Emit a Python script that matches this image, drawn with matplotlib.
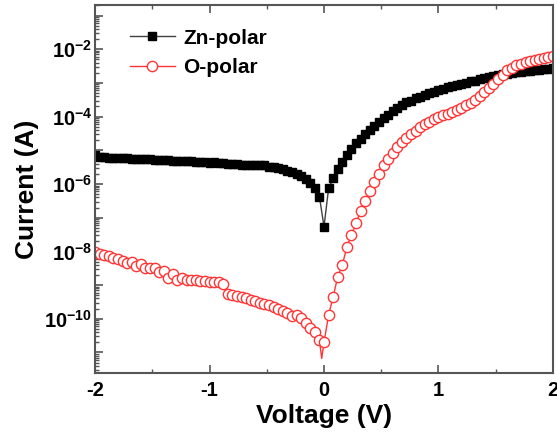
import numpy as np
import matplotlib
matplotlib.use('Agg')
import matplotlib.pyplot as plt
from matplotlib.ticker import LogLocator, FuncFormatter, MultipleLocator, NullFormatter

plt.rcParams['font.family'] = ['Liberation Sans', 'DejaVu Sans']
plt.rcParams['font.weight'] = 'bold'
plt.rcParams['mathtext.fontset'] = 'custom'
plt.rcParams['mathtext.rm'] = 'Liberation Sans:bold'
plt.rcParams['mathtext.bf'] = 'Liberation Sans:bold'

# ── Data (sweep -2 V .. 2 V, 0.04 V step) ───────────────────────────────────
voltage = np.linspace(-2.0, 2.0, 101)

zn_current = [
    7.1e-6, 6.3e-6, 6.2e-6, 6.0e-6, 6.0e-6, 5.9e-6, 5.8e-6, 5.8e-6, 5.6e-6, 5.5e-6,
    5.5e-6, 5.4e-6, 5.4e-6, 5.2e-6, 5.1e-6, 5.1e-6, 5.0e-6, 4.9e-6, 4.9e-6, 4.8e-6,
    4.7e-6, 4.7e-6, 4.6e-6, 4.5e-6, 4.4e-6, 4.3e-6, 4.4e-6, 4.2e-6, 4.1e-6, 4.0e-6,
    3.9e-6, 3.8e-6, 3.7e-6, 3.6e-6, 3.55e-6, 3.55e-6, 3.6e-6, 3.55e-6, 3.3e-6, 3.2e-6,
    2.95e-6, 2.75e-6, 2.5e-6, 2.3e-6, 2.0e-6, 1.7e-6, 1.4e-6, 1.07e-6, 7.6e-7, 4.2e-7,
    5.4e-8,
    7.4e-7, 1.48e-6, 2.75e-6, 4.5e-6, 7.2e-6, 1.12e-5, 1.62e-5, 2.2e-5, 2.95e-5, 4.0e-5,
    5.4e-5, 7.1e-5, 8.9e-5, 1.12e-4, 1.48e-4, 1.82e-4, 2.2e-4, 2.7e-4, 3.0e-4, 3.5e-4,
    3.9e-4, 4.4e-4, 4.9e-4, 5.5e-4, 6.0e-4, 6.6e-4, 7.4e-4, 8.1e-4, 8.7e-4, 9.5e-4,
    1.02e-3, 1.10e-3, 1.17e-3, 1.29e-3, 1.38e-3, 1.48e-3, 1.58e-3, 1.66e-3, 1.78e-3, 1.86e-3,
    1.95e-3, 2.04e-3, 2.1e-3, 2.2e-3, 2.24e-3, 2.34e-3, 2.45e-3, 2.5e-3, 2.6e-3, 2.75e-3,
]

o_current = [
    9.3e-9, 8.5e-9, 7.9e-9, 7.4e-9, 6.5e-9, 5.9e-9, 5.2e-9, 4.4e-9, 4.9e-9, 3.7e-9,
    4.1e-9, 3.3e-9, 3.1e-9, 3.3e-9, 2.4e-9, 2.7e-9, 1.62e-9, 2.2e-9, 1.45e-9, 1.58e-9,
    1.38e-9, 1.41e-9, 1.41e-9, 1.35e-9, 1.29e-9, 1.26e-9, 1.23e-9, 1.20e-9, 1.07e-9, 5.6e-10,
    5.1e-10, 4.8e-10, 4.5e-10, 4.1e-10, 3.7e-10, 3.3e-10, 2.95e-10, 2.7e-10, 2.5e-10, 2.2e-10,
    1.9e-10, 1.7e-10, 1.5e-10, 1.2e-10, 1.29e-10, 1.02e-10, 7.4e-11, 5.2e-11, 4.1e-11, 2.3e-11,
    2.0e-11,
    1.29e-10, 4.5e-10, 1.78e-9, 3.9e-9, 1.38e-8, 3.0e-8, 6.8e-8, 1.62e-7, 3.2e-7, 6.3e-7,
    1.12e-6, 2.0e-6, 3.55e-6, 5.6e-6, 8.5e-6, 1.26e-5, 1.78e-5, 2.3e-5, 3.0e-5, 3.8e-5,
    4.8e-5, 5.9e-5, 7.1e-5, 8.3e-5, 9.5e-5, 1.10e-4, 1.23e-4, 1.38e-4, 1.58e-4, 1.86e-4,
    2.2e-4, 2.6e-4, 3.2e-4, 4.1e-4, 5.2e-4, 6.9e-4, 9.5e-4, 1.29e-3, 1.74e-3, 2.34e-3,
    2.8e-3, 3.3e-3, 3.7e-3, 4.1e-3, 4.4e-3, 4.7e-3, 5.0e-3, 5.4e-3, 5.8e-3, 6.2e-3,
]

# extra reading near 0 V (line only, no symbol drawn there)
o_tip_v = -0.02
o_tip_i = 6.6e-12

o_voltage = np.insert(voltage, 50, o_tip_v)
o_curr = np.insert(np.array(o_current), 50, o_tip_i)
o_marks = [k for k in range(len(o_voltage)) if k != 50]

# ── Plot ─────────────────────────────────────────────────────────────────────
fig = plt.figure(figsize=(5.57, 4.41), dpi=100)
ax = fig.add_axes([0.1706, 0.1542, 0.8222, 0.8351])

ax.plot(voltage, zn_current, color='#404040', linewidth=1.0,
        marker='s', markersize=6.3, markerfacecolor='black',
        markeredgecolor='black', label='Zn-polar')
ax.plot(o_voltage, o_curr, color='#ff3535', linewidth=1.0,
        marker='o', markersize=7.4, markerfacecolor='white',
        markeredgecolor='#ff3535', markeredgewidth=1.0,
        markevery=o_marks, label='O-polar')

ax.set_yscale('log')
ax.set_xlim(-2, 2)
ax.set_ylim(10 ** -11.61, 10 ** -0.68)

ax.xaxis.set_major_locator(MultipleLocator(1))
ax.xaxis.set_minor_locator(MultipleLocator(0.5))
ax.yaxis.set_major_locator(LogLocator(base=10, numticks=30))
ax.yaxis.set_minor_locator(LogLocator(base=10, subs=np.arange(2, 10), numticks=30))
ax.yaxis.set_minor_formatter(NullFormatter())


def ylab(v, pos):
    e = int(round(np.log10(v)))
    if e % 2 == 0:
        return r'$\mathbf{10^{%d}}$' % e
    return ''


ax.yaxis.set_major_formatter(FuncFormatter(ylab))
ax.xaxis.set_major_formatter(FuncFormatter(lambda v, p: '%d' % v))

ax.tick_params(axis='both', which='both', direction='in', top=True, right=False,
               color='#555555', labelsize=14.5)
ax.tick_params(axis='both', which='major', length=6, width=1.2)
ax.tick_params(axis='both', which='minor', length=3, width=1.0)
ax.tick_params(axis='x', which='major', pad=6)
ax.tick_params(axis='y', which='major', pad=2)

for s in ax.spines.values():
    s.set_color('#555555')
    s.set_linewidth(1.5)

ax.set_xlabel('Voltage (V)', fontsize=19, fontweight='bold', labelpad=3)
ax.set_ylabel('Current (A)', fontsize=19, fontweight='bold', labelpad=4)

ax.legend(loc='upper left', bbox_to_anchor=(0.04, 0.98), frameon=False,
          fontsize=15, handlelength=2.15, handletextpad=0.4, labelspacing=0.5,
          borderpad=0.3)

fig.savefig('out.png', dpi=100)
